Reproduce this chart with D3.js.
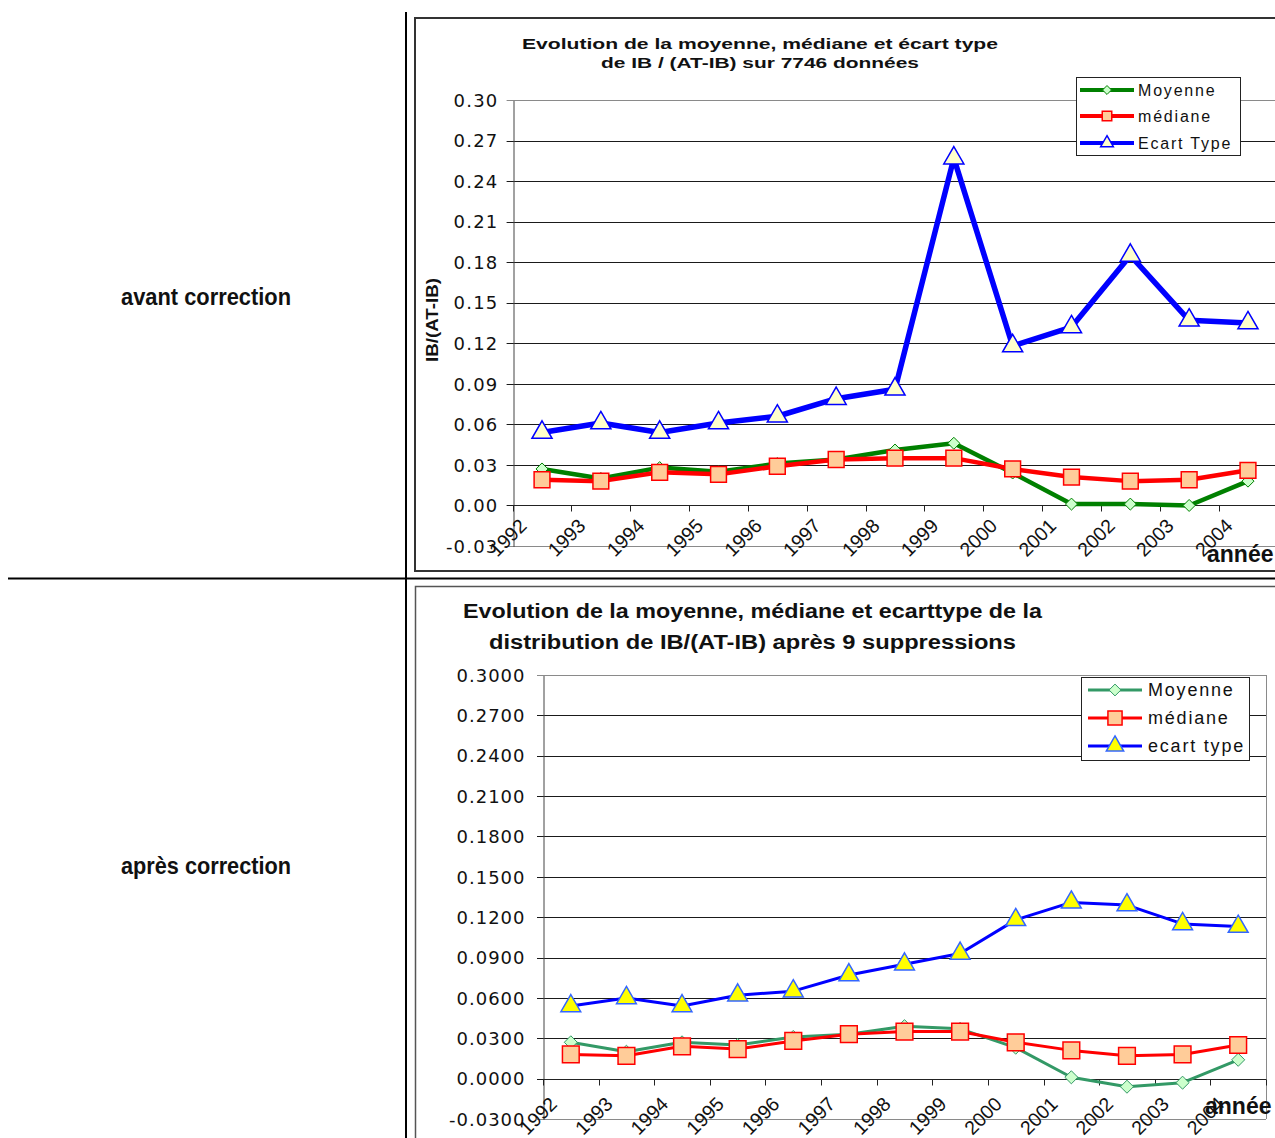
<!DOCTYPE html>
<html>
<head>
<meta charset="utf-8">
<script src="https://cdn.jsdelivr.net/npm/d3@7"></script>
<style>
  html, body { margin: 0; padding: 0; background: #fff; }
  svg { display: block; }
</style>
</head>
<body>
<svg id="page" width="1275" height="1138"></svg>
<script>
// ---- data -------------------------------------------------------------
const years = ["1992","1993","1994","1995","1996","1997","1998","1999","2000","2001","2002","2003","2004"];

// before correction (7746 observations)
const moyenneAvant = [0.027, 0.020, 0.028, 0.025, 0.031, 0.034, 0.041, 0.046, 0.024, 0.001, 0.001, 0.000, 0.018];
const medianeAvant = [0.019, 0.018, 0.0245, 0.023, 0.029, 0.034, 0.035, 0.035, 0.027, 0.021, 0.018, 0.019, 0.026];
const ecartAvant   = [0.054, 0.061, 0.054, 0.061, 0.066, 0.079, 0.086, 0.257, 0.118, 0.132, 0.185, 0.137, 0.135];

// after removing 9 observations
const moyenneApres = [0.027, 0.020, 0.027, 0.025, 0.031, 0.033, 0.039, 0.037, 0.023, 0.001, -0.006, -0.003, 0.014];
const medianeApres = [0.018, 0.017, 0.024, 0.022, 0.028, 0.033, 0.035, 0.035, 0.027, 0.021, 0.017, 0.018, 0.025];
const ecartApres   = [0.054, 0.060, 0.054, 0.062, 0.065, 0.077, 0.085, 0.093, 0.118, 0.131, 0.129, 0.115, 0.113];

const yTicks = [0.30, 0.27, 0.24, 0.21, 0.18, 0.15, 0.12, 0.09, 0.06, 0.03, 0.00, -0.03];

const rowLabels = ["avant correction", "après correction"];
const titleAvant = ["Evolution de la moyenne, médiane et écart type", "de IB / (AT-IB) sur 7746 données"];
const titleApres = ["Evolution de la moyenne, médiane et ecarttype de la", "distribution de IB/(AT-IB) après 9 suppressions"];
const seriesNamesAvant = ["Moyenne", "médiane", "Ecart Type"];
const seriesNamesApres = ["Moyenne", "médiane", "ecart type"];
const yTitleAvant = "IB/(AT-IB)";
const xTitle = "année";

// ---- helpers ----------------------------------------------------------
const locale = d3.formatLocale({decimal: ".", thousands: ",", grouping: [3], currency: ["", ""], minus: "-"});

// square diamond (d3's built-in one is elongated)
const squareDiamond = {
  draw(ctx, size) {
    const r = Math.sqrt(size / 2);
    ctx.moveTo(0, -r); ctx.lineTo(r, 0); ctx.lineTo(0, r); ctx.lineTo(-r, 0); ctx.closePath();
  }
};

const svg = d3.select("#page");

// table frame
svg.append("line").attr("x1", 406).attr("x2", 406).attr("y1", 12).attr("y2", 1138)
  .attr("stroke", "#000").attr("stroke-width", 2);
svg.append("line").attr("x1", 8).attr("x2", 1275).attr("y1", 578.5).attr("y2", 578.5)
  .attr("stroke", "#000").attr("stroke-width", 2);

svg.selectAll("text.rowlabel").data(rowLabels).join("text")
  .attr("class", "rowlabel")
  .attr("x", 206)
  .attr("y", (d, i) => i === 0 ? 305 : 874)
  .attr("text-anchor", "middle")
  .attr("font-family", "'Liberation Sans Narrow', 'Arial Narrow', 'Liberation Sans', sans-serif")
  .attr("font-weight", "bold")
  .attr("font-size", 24)
  .attr("textLength", 170)
  .attr("lengthAdjust", "spacingAndGlyphs")
  .attr("fill", "#111")
  .text(d => d);

function drawPanel(cfg) {
  const g = svg.append("g");

  // chart area frame
  g.append("rect")
    .attr("x", cfg.frame[0]).attr("y", cfg.frame[1])
    .attr("width", cfg.frame[2]).attr("height", cfg.frame[3])
    .attr("fill", "#fff").attr("stroke", cfg.frameColor).attr("stroke-width", cfg.frameWidth);

  const x = d3.scaleBand().domain(years).range([cfg.left, cfg.right]);
  const y = d3.scaleLinear().domain([-0.03, 0.30]).range([cfg.bottom, cfg.top]);
  const cx = d => x(d) + x.bandwidth() / 2;
  const fmt = locale.format(cfg.tickFormat);

  // horizontal gridlines with outward tick marks
  g.selectAll("line.grid").data(yTicks).join("line")
    .attr("class", "grid")
    .attr("x1", cfg.left - 6).attr("x2", cfg.gridRight)
    .attr("y1", d => Math.round(y(d)) + 0.5).attr("y2", d => Math.round(y(d)) + 0.5)
    .attr("stroke", d => (d === 0.30 || d === -0.03) ? "#8a8a8a" : "#1a1a1a")
    .attr("stroke-width", 1);

  if (cfg.rightBorder) {
    g.append("line").attr("x1", cfg.right + 0.5).attr("x2", cfg.right + 0.5)
      .attr("y1", y(0.30)).attr("y2", y(-0.03)).attr("stroke", "#8a8a8a");
  }

  // value axis
  const yAxis = d3.axisLeft(y).tickValues(yTicks).tickFormat(fmt).tickSize(0).tickPadding(cfg.tickPad);
  const ya = g.append("g").attr("transform", `translate(${Math.round(cfg.left) + 0.5},0.5)`).call(yAxis);
  ya.select(".domain").attr("stroke", "#444");
  ya.selectAll("text")
    .attr("font-family", "'DejaVu Sans', Verdana, sans-serif")
    .attr("font-size", cfg.tickFont)
    .attr("letter-spacing", cfg.tickSpacing)
    .attr("fill", "#111");

  // category axis sitting on the zero line, ticks between categories
  const zeroY = Math.round(y(0)) + 0.5;
  g.append("line").attr("x1", cfg.left).attr("x2", cfg.gridRight)
    .attr("y1", zeroY).attr("y2", zeroY).attr("stroke", "#222");
  const bounds = years.map(d => x(d)).concat([x(years[years.length - 1]) + x.bandwidth()]);
  g.selectAll("line.xtick").data(bounds).join("line")
    .attr("class", "xtick")
    .attr("x1", d => Math.round(d) + 0.5).attr("x2", d => Math.round(d) + 0.5)
    .attr("y1", zeroY).attr("y2", zeroY + 6).attr("stroke", "#222");

  g.selectAll("text.xlab").data(years).join("text")
    .attr("class", "xlab")
    .attr("transform", d => `translate(${x(d) + cfg.xLabDx},${y(0) + cfg.xLabDy}) rotate(-45)`)
    .attr("text-anchor", "middle")
    .attr("dominant-baseline", "central")
    .attr("font-family", "'Liberation Sans', Arial, sans-serif")
    .attr("font-size", cfg.xLabFont)
    .attr("fill", "#111")
    .text(d => d);

  // series
  const line = d3.line().x((d, i) => cx(years[i])).y(d => y(d));
  cfg.series.forEach(s => {
    g.append("path").datum(s.values)
      .attr("d", line)
      .attr("fill", "none")
      .attr("stroke", s.color)
      .attr("stroke-width", s.width)
      .attr("stroke-linejoin", "round");
    g.selectAll(null).data(s.values).join("path")
      .attr("transform", (d, i) => `translate(${cx(years[i])},${y(d)})`)
      .attr("d", d3.symbol(s.symbol, s.size))
      .attr("fill", s.fill)
      .attr("stroke", s.markerStroke)
      .attr("stroke-width", s.markerWidth);
  });

  // title
  g.selectAll("text.title").data(cfg.title).join("text")
    .attr("class", "title")
    .attr("x", cfg.titleX)
    .attr("y", (d, i) => cfg.titleY[i])
    .attr("text-anchor", "middle")
    .attr("font-family", "'Liberation Sans', Arial, sans-serif")
    .attr("font-weight", "bold")
    .attr("font-size", cfg.titleFont)
    .attr("textLength", (d, i) => cfg.titleLen[i])
    .attr("lengthAdjust", "spacingAndGlyphs")
    .attr("fill", "#111")
    .text(d => d);

  // axis titles
  if (cfg.yTitle) {
    g.append("text")
      .attr("transform", `translate(${cfg.yTitle.x},${cfg.yTitle.y}) rotate(-90)`)
      .attr("text-anchor", "middle")
      .attr("font-family", "'Liberation Sans', Arial, sans-serif")
      .attr("font-weight", "bold")
      .attr("font-size", 17)
      .attr("textLength", cfg.yTitle.len)
      .attr("lengthAdjust", "spacingAndGlyphs")
      .attr("fill", "#111")
      .text(cfg.yTitle.text);
  }
  g.append("text")
    .attr("x", cfg.xTitle[0]).attr("y", cfg.xTitle[1])
    .attr("font-family", "'Liberation Sans', Arial, sans-serif")
    .attr("font-weight", "bold")
    .attr("font-size", cfg.xTitleFont)
    .attr("fill", "#111")
    .text(xTitle);

  // legend
  const L = cfg.legend;
  const lg = g.append("g");
  lg.append("rect").attr("x", L.x + 0.5).attr("y", L.y + 0.5).attr("width", L.w).attr("height", L.h)
    .attr("fill", "#fff").attr("stroke", "#222");
  cfg.series.forEach((s, i) => {
    const ly = L.rows[i];
    lg.append("line").attr("x1", L.lineX[0]).attr("x2", L.lineX[1])
      .attr("y1", ly).attr("y2", ly).attr("stroke", s.color).attr("stroke-width", s.legendWidth);
    lg.append("path")
      .attr("transform", `translate(${(L.lineX[0] + L.lineX[1]) / 2},${ly})`)
      .attr("d", d3.symbol(s.symbol, s.legendSize))
      .attr("fill", s.fill).attr("stroke", s.markerStroke).attr("stroke-width", s.markerWidth);
    lg.append("text").attr("x", L.textX).attr("y", ly)
      .attr("dominant-baseline", "central")
      .attr("font-family", "'Liberation Sans', Arial, sans-serif")
      .attr("font-size", L.font)
      .attr("letter-spacing", L.spacing)
      .attr("fill", "#111")
      .text(s.name);
  });
}

// ---- upper panel: before correction ----------------------------------
drawPanel({
  frame: [415, 18, 900, 553], frameColor: "#333", frameWidth: 2,
  left: 512.6, right: 1277.4, top: 100, bottom: 546, gridRight: 1280, rightBorder: false,
  tickFormat: ".2f", tickFont: 18, tickSpacing: 1.2, tickPad: 15,
  xLabDx: -5, xLabDy: 32, xLabFont: 19.5,
  title: titleAvant, titleX: 760, titleY: [49, 68], titleFont: 15, titleLen: [476, 318],
  yTitle: {x: 438, y: 320, text: yTitleAvant, len: 84},
  xTitle: [1207, 562], xTitleFont: 23,
  legend: {x: 1076, y: 77, w: 164, h: 78, rows: [90, 116, 143], lineX: [1080, 1134], textX: 1138, font: 16, spacing: 1.8},
  series: [
    {name: seriesNamesAvant[0], values: moyenneAvant, color: "#008000", width: 4.5, legendWidth: 4,
     symbol: squareDiamond, size: 72, legendSize: 40, fill: "#ccffcc", markerStroke: "#008000", markerWidth: 1},
    {name: seriesNamesAvant[1], values: medianeAvant, color: "#ff0000", width: 4.5, legendWidth: 4,
     symbol: d3.symbolSquare, size: 250, legendSize: 90, fill: "#ffcc99", markerStroke: "#ff0000", markerWidth: 1.5},
    {name: seriesNamesAvant[2], values: ecartAvant, color: "#0000ff", width: 5.5, legendWidth: 4,
     symbol: d3.symbolTriangle, size: 175, legendSize: 70, fill: "#ffffcc", markerStroke: "#0000ff", markerWidth: 1.5}
  ]
});

// ---- lower panel: after correction -----------------------------------
drawPanel({
  frame: [415.5, 586.5, 900, 600], frameColor: "#555", frameWidth: 1.5,
  left: 543, right: 1266, top: 675, bottom: 1119, gridRight: 1266, rightBorder: true,
  tickFormat: ".4f", tickFont: 18, tickSpacing: 1, tickPad: 18,
  xLabDx: -5, xLabDy: 37, xLabFont: 19.5,
  title: titleApres, titleX: 752.5, titleY: [618, 649], titleFont: 20, titleLen: [579, 527],
  yTitle: null,
  xTitle: [1205, 1114], xTitleFont: 23,
  legend: {x: 1081, y: 677, w: 168, h: 83, rows: [690, 718, 746], lineX: [1088, 1142], textX: 1148, font: 18, spacing: 1.8},
  series: [
    {name: seriesNamesApres[0], values: moyenneApres, color: "#339966", width: 3, legendWidth: 3,
     symbol: squareDiamond, size: 85, legendSize: 70, fill: "#ccffcc", markerStroke: "#339966", markerWidth: 1},
    {name: seriesNamesApres[1], values: medianeApres, color: "#ff0000", width: 3, legendWidth: 3,
     symbol: d3.symbolSquare, size: 280, legendSize: 200, fill: "#ffcc99", markerStroke: "#ff0000", markerWidth: 1.5},
    {name: seriesNamesApres[2], values: ecartApres, color: "#0000ff", width: 3, legendWidth: 3,
     symbol: d3.symbolTriangle, size: 170, legendSize: 130, fill: "#ffff00", markerStroke: "#3366ff", markerWidth: 1.5}
  ]
});
</script>
</body>
</html>
